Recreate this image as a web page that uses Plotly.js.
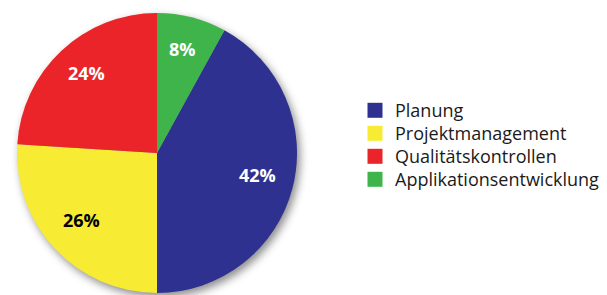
<!DOCTYPE html>
<html>
<head>
<meta charset="utf-8">
<script src="https://cdn.plot.ly/plotly-3.0.1.min.js"></script>
<style>html,body{margin:0;padding:0;background:#fff;} #chart{width:607px;height:295px;}</style>
</head>
<body>
<div id="chart"></div>
<script>
const categories = ["Planung", "Projektmanagement", "Qualitätskontrollen", "Applikationsentwicklung"];
const values = [42, 26, 24, 8];
const colors = ["#2e3190", "#f8eb33", "#ea2428", "#3eb44b"];
const labelColors = ["#ffffff", "#000000", "#ffffff", "#ffffff"];

const W = 607, H = 295;
const cx = 157, cy = 153, R = 140;
const rotation = 28.8;

const trace = {
  type: "pie",
  labels: categories,
  values: values,
  sort: false,
  direction: "clockwise",
  rotation: rotation,
  marker: {colors: colors, line: {width: 0}},
  textinfo: "none",
  domain: {x: [(cx - R) / W, (cx + R) / W], y: [(H - cy - R) / H, (H - cy + R) / H]},
  hoverinfo: "none"
};

// percentage labels placed along each slice's mid-angle
const total = values.reduce((a, b) => a + b, 0);
const annotations = [];
let start = rotation;
values.forEach((v, i) => {
  const sweep = 360 * v / total;
  const mid = (start + sweep / 2) * Math.PI / 180;
  start += sweep;
  const r = 0.74 * R;
  const px = cx + r * Math.sin(mid);
  const py = cy - r * Math.cos(mid) - 4;
  annotations.push({
    x: px / W, y: 1 - py / H, xref: "paper", yref: "paper",
    xanchor: "center", yanchor: "middle", showarrow: false,
    text: Math.round(100 * v / total) + "%",
    font: {family: "Open Sans, sans-serif", size: 18, weight: "bold", color: labelColors[i]}
  });
});

const layout = {
  width: W, height: H,
  margin: {l: 0, r: 0, t: 0, b: 0},
  paper_bgcolor: "#ffffff",
  showlegend: true,
  annotations: annotations,
  legend: {
    x: 355 / W, xanchor: "left",
    y: 1 - 145 / H, yanchor: "middle",
    font: {family: "Open Sans, sans-serif", size: 18, color: "#1a1a1a"},
    bgcolor: "rgba(0,0,0,0)"
  }
};

Plotly.newPlot("chart", [trace], layout, {staticPlot: true}).then(() => {
  const g = document.querySelector(".pielayer");
  if (g) g.style.filter = "drop-shadow(3px 4px 4px rgba(0,0,0,0.45))";
  // tighten legend row spacing around its original middle
  const items = Array.from(document.querySelectorAll(".legend .traces"));
  const step = 23;
  const n = items.length;
  const pos = items.map(it => {
    const m = /translate\(([^,]+),\s*([^)]+)\)/.exec(it.getAttribute("transform") || "");
    return m ? [parseFloat(m[1]), parseFloat(m[2])] : [0, 0];
  });
  if (n) {
    const midOld = (pos[0][1] + pos[n - 1][1]) / 2;
    items.forEach((it, i) => {
      const y = midOld + (i - (n - 1) / 2) * step;
      it.setAttribute("transform", "translate(" + pos[i][0] + "," + y + ")");
    });
  }
  // enlarge the square legend symbols
  document.querySelectorAll(".legend .legendpoints path").forEach(p => {
    const t = p.getAttribute("transform") || "";
    p.setAttribute("transform", t + " scale(1.25)");
  });
});
</script>
</body>
</html>
